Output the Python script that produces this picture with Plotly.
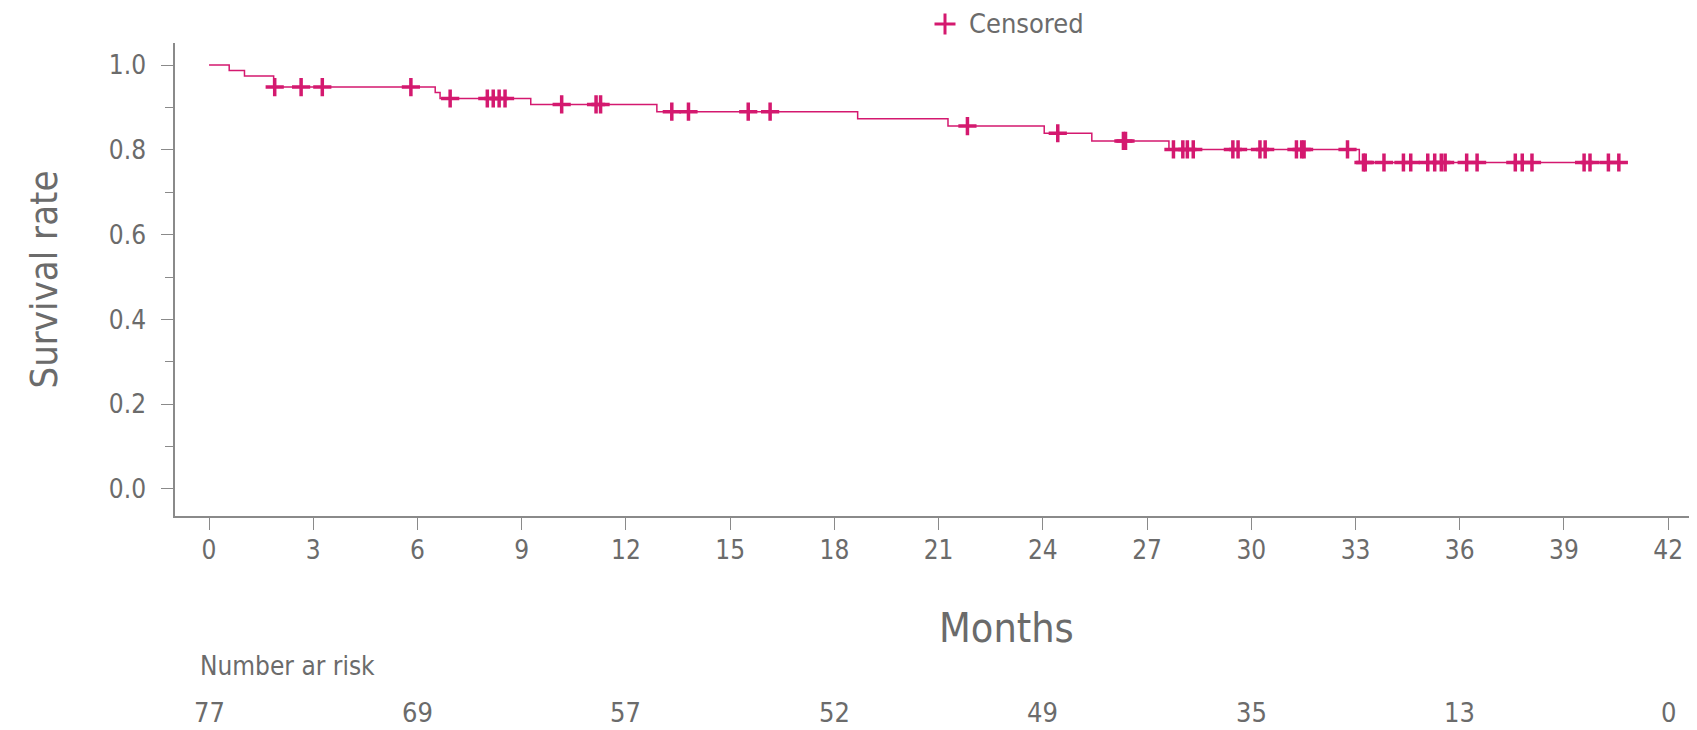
import numpy as np
import plotly.graph_objects as go

# Kaplan-Meier curve
event_months = [0.58, 1.02, 1.86, 6.51, 6.65, 9.26, 12.89, 18.67, 21.27, 24.04, 25.41, 27.63, 33.11]
surv_after = [0.987, 0.974, 0.948, 0.935, 0.921, 0.907, 0.890, 0.873, 0.856, 0.839, 0.821, 0.801, 0.770]

censor_months = [1.89, 2.65, 3.26, 5.81, 6.94, 8.01, 8.18, 8.35, 8.52, 10.15, 11.14, 11.27,
                 13.32, 13.80, 15.52, 16.15, 21.83, 24.43, 26.32, 26.38, 27.76, 28.03, 28.16,
                 28.33, 29.47, 29.62, 30.25, 30.40, 31.30, 31.45, 31.52, 32.77, 33.23, 33.28,
                 33.82, 34.38, 34.59, 35.08, 35.28, 35.47, 35.58, 36.20, 36.50, 37.60, 37.80,
                 38.08, 39.58, 39.75, 40.28, 40.58]

risk_months = [0, 6, 12, 18, 24, 30, 36, 42]
risk_counts = [77, 69, 57, 52, 49, 35, 13, 0]

PINK = "#d4196f"
GREY = "#6b6b6b"
AXIS = "#8a8a8a"
FONT = "Liberation Sans Narrow, DejaVu Sans Condensed, Arial Narrow, sans-serif"

# step line
xs = [0] + event_months + [max(censor_months)]
ys = [1.0] + surv_after + [surv_after[-1]]

# survival value at each censor time
ev = np.array(event_months)
sv = np.array([1.0] + surv_after)
censor_surv = [sv[np.searchsorted(ev, t, side="right")] for t in censor_months]

fig = go.Figure()
fig.add_trace(go.Scatter(
    x=xs, y=ys, mode="lines", line=dict(color=PINK, width=1.5, shape="hv"),
    showlegend=False, hoverinfo="skip",
))
fig.add_trace(go.Scatter(
    x=censor_months, y=censor_surv, mode="markers", name="Censored",
    marker=dict(symbol="cross-thin-open", size=13, color=PINK,
                line=dict(color=PINK, width=3.5)),
    showlegend=False,
))

# page body has an 8px margin, so the plot sits at 8+margin
PW = 1522   # plot width
PH = 473    # plot height
TOP = 35
LEFT = 167

# legend drawn by hand so it does not push the top margin
lx = (937 - LEFT) / PW
ly = 1 + (TOP - 16) / PH
fig.add_shape(type="line", xref="paper", yref="paper", x0=lx - 10.5 / PW, x1=lx + 10.5 / PW,
              y0=ly, y1=ly, line=dict(color=PINK, width=3))
fig.add_shape(type="line", xref="paper", yref="paper", x0=lx, x1=lx,
              y0=ly - 10.5 / PH, y1=ly + 10.5 / PH, line=dict(color=PINK, width=3))
fig.add_annotation(x=(959 - LEFT) / PW, y=ly, xref="paper", yref="paper", text="Censored",
                   showarrow=False, xanchor="left", yanchor="middle",
                   font=dict(size=27, color=GREY, family=FONT))

# Number at risk table
fig.add_annotation(x=(198 - 175) / PW, y=-(666 - 516) / PH, xref="paper", yref="paper",
                   text="Number ar risk", showarrow=False, xanchor="left", yanchor="middle",
                   font=dict(size=26, color=GREY, family=FONT))
for m, n in zip(risk_months, risk_counts):
    fig.add_annotation(x=m, y=-(712 - 516) / PH, xref="x", yref="paper", text=str(n),
                       showarrow=False, xanchor="center", yanchor="middle",
                       font=dict(size=27, color=GREY, family=FONT))

fig.add_annotation(x=(1006 - 175) / PW, y=-(628 - 516) / PH, xref="paper", yref="paper",
                   text="Months", showarrow=False, xanchor="center", yanchor="middle",
                   font=dict(size=41, color=GREY, family=FONT))

fig.update_xaxes(
    range=[-0.98, 42.83], tickmode="array", tickvals=list(range(0, 43, 3)),
    showline=True, linecolor=AXIS, linewidth=1.5, showgrid=False, zeroline=False,
    ticks="outside", ticklen=12, tickcolor=AXIS, tickwidth=1,
    tickfont=dict(size=26, color=GREY, family=FONT), ticklabelstandoff=-2,
)
fig.update_yaxes(
    range=[-0.0637, 1.0519], tickmode="array", tickvals=[0, 0.2, 0.4, 0.6, 0.8, 1.0],
    tickformat=".1f",
    showline=True, linecolor=AXIS, linewidth=1.5, showgrid=False, zeroline=False,
    ticks="outside", ticklen=12, tickcolor=AXIS, tickwidth=1,
    minor=dict(tickvals=[0.1, 0.3, 0.5, 0.7, 0.9], ticks="outside", ticklen=8, tickcolor=AXIS),
    tickfont=dict(size=26, color=GREY, family=FONT), ticklabelstandoff=10,
    title=dict(text="Survival rate", font=dict(size=38, color=GREY, family=FONT), standoff=40),
)

fig.update_layout(
    width=1689, height=722,
    margin=dict(l=LEFT, r=0, t=TOP, b=214),
    plot_bgcolor="white", paper_bgcolor="white",
    font=dict(family=FONT, color=GREY),
    showlegend=False,
)

fig.write_html("out.html")
